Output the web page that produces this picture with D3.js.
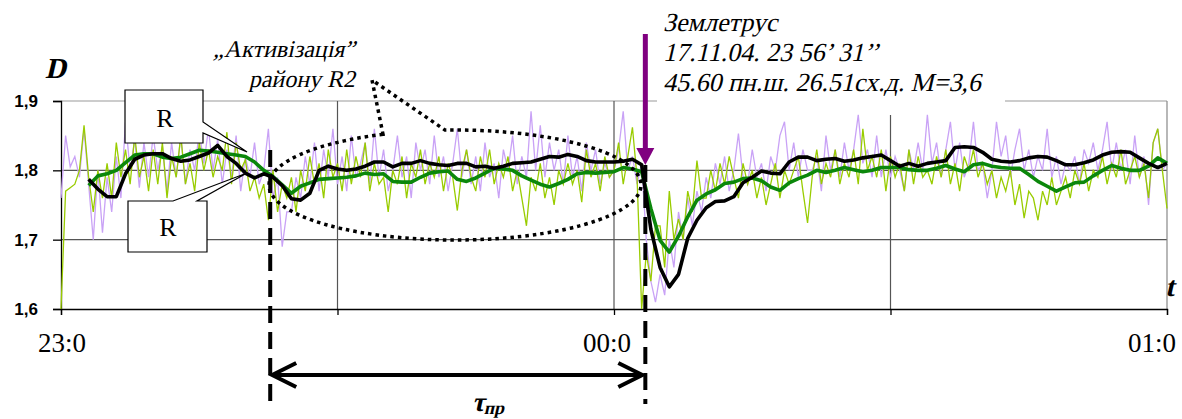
<!DOCTYPE html>
<html><head><meta charset="utf-8">
<script src="https://cdn.jsdelivr.net/npm/d3@7"></script>
<style>body{margin:0;background:#fff}svg{display:block}</style>
</head><body><svg id="c" width="1182" height="419"></svg>
<script>
// ---- data ----
const yTicks = [1.6, 1.7, 1.8, 1.9];
const yTickLabels = ["1,6", "1,7", "1,8", "1,9"];
const xTicks = [0, 30, 60, 90, 120];            // minutes after 23:00
const xLabelTicks = [0, 60, 120];
const xTickLabels = ["23:0", "00:0", "01:0"];
const noisyStep = 0.5;                           // minutes between samples of noisy series
const purple = [
1.760,1.850,1.805,1.820,1.790,1.860,1.780,1.700,1.800,1.710,
1.790,1.740,1.820,1.760,1.870,1.800,1.845,1.775,1.840,1.790,
1.850,1.800,1.835,1.770,1.840,1.790,1.850,1.780,1.830,1.800,
1.855,1.810,1.860,1.800,1.845,1.780,1.830,1.790,1.850,1.770,
1.820,1.790,1.840,1.780,1.800,1.860,1.760,1.790,1.690,1.740,
1.740,1.790,1.760,1.820,1.780,1.840,1.770,1.830,1.790,1.860,
1.780,1.820,1.770,1.850,1.790,1.810,1.840,1.780,1.860,1.790,
1.830,1.770,1.800,1.850,1.790,1.820,1.760,1.840,1.800,1.830,
1.780,1.850,1.790,1.820,1.770,1.810,1.860,1.790,1.830,1.780,
1.820,1.770,1.840,1.790,1.810,1.760,1.830,1.800,1.850,1.780,
1.820,1.790,1.885,1.800,1.865,1.790,1.840,1.800,1.830,1.780,
1.850,1.790,1.820,1.770,1.840,1.800,1.830,1.780,1.810,1.790,
1.800,1.830,1.885,1.800,1.820,1.780,1.810,1.700,1.640,1.610,
1.650,1.620,1.700,1.660,1.740,1.700,1.760,1.720,1.770,1.740,
1.790,1.760,1.810,1.780,1.820,1.770,1.800,1.853,1.790,1.780,
1.830,1.790,1.810,1.770,1.820,1.800,1.850,1.870,1.800,1.840,
1.790,1.830,1.800,1.800,1.820,1.770,1.850,1.800,1.830,1.790,
1.840,1.800,1.830,1.880,1.810,1.830,1.790,1.850,1.790,1.830,
1.790,1.820,1.800,1.770,1.830,1.800,1.840,1.800,1.880,1.810,
1.840,1.790,1.830,1.870,1.800,1.840,1.790,1.810,1.870,1.800,
1.810,1.760,1.800,1.870,1.820,1.850,1.790,1.830,1.860,1.800,
1.830,1.790,1.820,1.800,1.860,1.790,1.820,1.780,1.810,1.800,
1.820,1.780,1.830,1.810,1.840,1.800,1.830,1.870,1.800,1.840,
1.800,1.830,1.780,1.850,1.790,1.820,1.750,1.840,1.860,1.800,
1.810];
const yellowGreen = [
1.600,1.770,1.775,1.780,1.800,1.865,1.790,1.740,1.800,1.760,
1.810,1.760,1.840,1.790,1.830,1.780,1.850,1.790,1.820,1.770,
1.830,1.780,1.840,1.760,1.820,1.790,1.850,1.780,1.810,1.770,
1.840,1.800,1.830,1.790,1.820,1.800,1.855,1.780,1.840,1.800,
1.815,1.770,1.790,1.760,1.780,1.728,1.800,1.740,1.780,1.760,
1.790,1.740,1.800,1.770,1.820,1.780,1.810,1.760,1.830,1.790,
1.810,1.770,1.830,1.780,1.820,1.790,1.840,1.770,1.810,1.780,
1.790,1.740,1.800,1.780,1.820,1.760,1.810,1.790,1.830,1.780,
1.810,1.790,1.820,1.770,1.810,1.790,1.742,1.800,1.830,1.790,
1.770,1.820,1.790,1.830,1.780,1.810,1.790,1.820,1.770,1.800,
1.760,1.720,1.790,1.770,1.810,1.760,1.790,1.750,1.800,1.780,
1.810,1.780,1.800,1.754,1.830,1.790,1.810,1.770,1.820,1.790,
1.800,1.840,1.780,1.820,1.862,1.790,1.600,1.680,1.640,1.720,
1.720,1.660,1.770,1.700,1.730,1.700,1.770,1.740,1.814,1.760,
1.760,1.800,1.770,1.810,1.780,1.820,1.790,1.760,1.810,1.780,
1.800,1.760,1.790,1.750,1.780,1.810,1.760,1.800,1.780,1.800,
1.820,1.770,1.724,1.790,1.830,1.780,1.810,1.790,1.830,1.780,
1.810,1.790,1.830,1.780,1.860,1.800,1.820,1.790,1.830,1.770,
1.820,1.790,1.810,1.770,1.830,1.780,1.820,1.790,1.800,1.780,
1.820,1.790,1.830,1.780,1.810,1.770,1.820,1.800,1.830,1.790,
1.810,1.780,1.800,1.760,1.790,1.770,1.800,1.750,1.780,1.731,
1.770,1.760,1.728,1.770,1.750,1.790,1.750,1.770,1.790,1.760,
1.800,1.780,1.810,1.770,1.800,1.790,1.820,1.780,1.810,1.790,
1.830,1.780,1.800,1.820,1.790,1.810,1.760,1.840,1.860,1.800,
1.745];
const smoothStart = 3;                           // smoothed series: one value per minute from 23:03
const smoothBlack = [
1.787,1.773,1.762,1.762,1.795,1.816,1.822,1.824,1.824,1.817,
1.813,1.815,1.820,1.825,1.836,1.820,1.810,1.796,1.789,1.795,
1.790,1.778,1.759,1.757,1.767,1.800,1.806,1.802,1.800,1.802,
1.806,1.812,1.812,1.805,1.810,1.810,1.814,1.810,1.808,1.807,
1.810,1.810,1.805,1.806,1.803,1.806,1.810,1.811,1.812,1.816,
1.820,1.819,1.823,1.820,1.814,1.812,1.812,1.812,1.813,1.816,
1.808,1.715,1.660,1.632,1.650,1.702,1.728,1.746,1.755,1.756,
1.762,1.782,1.790,1.799,1.796,1.795,1.812,1.819,1.819,1.814,
1.816,1.817,1.813,1.815,1.818,1.820,1.822,1.814,1.806,1.810,
1.806,1.810,1.812,1.814,1.833,1.834,1.833,1.826,1.816,1.813,
1.812,1.814,1.818,1.820,1.819,1.814,1.808,1.808,1.811,1.815,
1.822,1.826,1.827,1.826,1.818,1.810,1.804,1.810];
const smoothGreen = [
1.778,1.792,1.795,1.800,1.811,1.822,1.824,1.824,1.819,1.817,
1.819,1.824,1.829,1.828,1.826,1.824,1.822,1.820,1.812,1.800,
1.791,1.779,1.767,1.777,1.782,1.787,1.788,1.789,1.790,1.792,
1.796,1.794,1.795,1.784,1.783,1.783,1.790,1.796,1.798,1.799,
1.787,1.784,1.789,1.796,1.803,1.802,1.800,1.792,1.786,1.780,
1.776,1.781,1.787,1.795,1.797,1.796,1.797,1.798,1.804,1.802,
1.798,1.745,1.699,1.682,1.705,1.733,1.757,1.766,1.772,1.781,
1.783,1.788,1.789,1.785,1.776,1.771,1.782,1.788,1.793,1.800,
1.797,1.800,1.804,1.801,1.798,1.800,1.804,1.804,1.804,1.801,
1.800,1.800,1.803,1.807,1.802,1.798,1.808,1.810,1.806,1.804,
1.803,1.803,1.794,1.784,1.777,1.770,1.776,1.782,1.783,1.792,
1.800,1.807,1.803,1.800,1.800,1.806,1.818,1.810];
const quakeMinute = 63.4;
const precursorMinute = 22.7;
const quakeText = ["Землетрус", "17.11.04. 23 56’ 31’’", "45.60 пн.ш. 26.51сх.д. M=3,6"];
const activityText = ["„Активізація”", "району R2"];

// ---- layout ----
const svg = d3.select("#c");
const x = d3.scaleLinear().domain([0, 120]).range([61, 1167]);
const y = d3.scaleLinear().domain([1.6, 1.9]).range([309, 101]);
const serif = "'Liberation Serif','Times New Roman',serif";
const sans = "'Liberation Sans',Arial,sans-serif";

// faux-italic serif text (slanted upright serif glyphs)
function slanted(px, py, txt, size, opts = {}) {
  const t = svg.append("text")
    .attr("transform", `translate(${px},${py}) skewX(-13)`)
    .attr("font-family", serif).attr("font-size", size)
    .attr("font-weight", opts.bold ? "bold" : "normal")
    .attr("text-anchor", opts.anchor || "start");
  t.text(txt);
  return t;
}

// grid
const g = svg.append("g");
yTicks.filter(d => d > 1.6).forEach(d => {
  g.append("line").attr("x1", x(0)).attr("x2", x(120)).attr("y1", y(d)).attr("y2", y(d))
   .attr("stroke", d === 1.9 ? "#9a9a9a" : "#555").attr("stroke-width", 1.2);
});
xTicks.filter(d => d > 0).forEach(d => {
  g.append("line").attr("x1", x(d)).attr("x2", x(d)).attr("y1", y(1.9)).attr("y2", y(1.6))
   .attr("stroke", d === 120 ? "#888" : "#555").attr("stroke-width", 1.2);
});

// white panel behind the earthquake text
svg.append("rect").attr("x", 657).attr("y", 0).attr("width", 348).attr("height", 115).attr("fill", "#fff");

// axes
const ya = svg.append("g").attr("transform", `translate(${x(0)},0)`)
  .call(d3.axisLeft(y).tickValues(yTicks).tickSize(8).tickPadding(15).tickFormat((d, i) => yTickLabels[i]));
ya.selectAll("text").attr("font-family", sans).attr("font-weight", "bold").attr("font-size", 17).attr("fill", "#000");
ya.selectAll("line,path").attr("stroke", "#000").attr("stroke-width", 1.3);
const xa = svg.append("g").attr("transform", `translate(0,${y(1.6)})`)
  .call(d3.axisBottom(x).tickValues(xTicks).tickSize(6).tickFormat(""));
xa.selectAll("line,path").attr("stroke", "#000").attr("stroke-width", 1.3);
const xLabelShift = [-23, -31, -39];
xLabelTicks.forEach((d, i) => {
  svg.append("text").attr("x", x(d) + xLabelShift[i]).attr("y", 352)
    .attr("font-family", serif).attr("font-size", 27).text(xTickLabels[i]);
});

// series
const noisyLine = d3.line().x((d, i) => x(i * noisyStep)).y(d => y(d));
const smoothLine = d3.line().x((d, i) => x(smoothStart + i)).y(d => y(d));
svg.append("path").attr("d", noisyLine(purple)).attr("fill", "none").attr("stroke", "#c9a2f6").attr("stroke-width", 1.3);
svg.append("path").attr("d", noisyLine(yellowGreen)).attr("fill", "none").attr("stroke", "#99cc00").attr("stroke-width", 1.3);
svg.append("path").attr("d", smoothLine(smoothGreen)).attr("fill", "none").attr("stroke", "#0b870b").attr("stroke-width", 3.6).attr("stroke-linejoin", "round");
svg.append("path").attr("d", smoothLine(smoothBlack)).attr("fill", "none").attr("stroke", "#000").attr("stroke-width", 3.6).attr("stroke-linejoin", "round");

// dotted oval callout
const cx = 455, cy = 185, rx = 186, ry = 55;
const p1x = 383, p2x = 445, tip = [372, 80];
const p1y = cy - ry * Math.sqrt(1 - ((p1x - cx) / rx) ** 2);
const p2y = cy - ry * Math.sqrt(1 - ((p2x - cx) / rx) ** 2);
svg.append("path")
  .attr("d", `M${p1x},${p1y} A${rx},${ry} 0 1 0 ${p2x},${p2y} L${tip[0]},${tip[1]} Z`)
  .attr("fill", "none").attr("stroke", "#000").attr("stroke-width", 3.5).attr("stroke-dasharray", "3.5,4");

// dashed verticals
[precursorMinute, quakeMinute].forEach((m, i) => {
  svg.append("line").attr("x1", x(m)).attr("x2", x(m)).attr("y1", i === 0 ? 150 : 165).attr("y2", 404)
    .attr("stroke", "#000").attr("stroke-width", 4).attr("stroke-dasharray", "17,9");
});

// R callouts
svg.append("path").attr("d", "M125,90 H203 V122 L247,152 L203,133 V143 H125 Z")
  .attr("fill", "#fff").attr("stroke", "#000").attr("stroke-width", 1.2);
svg.append("path").attr("d", "M128,201 H173 L247,173 L197,201 H207 V252 H128 Z")
  .attr("fill", "#fff").attr("stroke", "#000").attr("stroke-width", 1.2);
svg.append("text").attr("x", 165).attr("y", 127).attr("text-anchor", "middle").attr("font-family", serif).attr("font-size", 26).text("R");
svg.append("text").attr("x", 168).attr("y", 236).attr("text-anchor", "middle").attr("font-family", serif).attr("font-size", 26).text("R");

// double arrow (precursor interval)
const ax1 = x(precursorMinute) + 2, ax2 = x(quakeMinute) - 3, ay = 375;
svg.append("line").attr("x1", ax1).attr("x2", ax2).attr("y1", ay).attr("y2", ay).attr("stroke", "#000").attr("stroke-width", 4);
svg.append("path").attr("d", `M${ax1 + 24},${ay - 12} L${ax1},${ay} L${ax1 + 24},${ay + 12}`).attr("fill", "none").attr("stroke", "#000").attr("stroke-width", 4);
svg.append("path").attr("d", `M${ax2 - 24},${ay - 12} L${ax2},${ay} L${ax2 - 24},${ay + 12}`).attr("fill", "none").attr("stroke", "#000").attr("stroke-width", 4);

// earthquake arrow
const qx = x(quakeMinute);
svg.append("line").attr("x1", qx).attr("x2", qx).attr("y1", 34).attr("y2", 150).attr("stroke", "#800080").attr("stroke-width", 5);
svg.append("path").attr("d", `M${qx - 9},148 L${qx + 9},148 L${qx},165 Z`).attr("fill", "#800080");

// texts
slanted(45, 78, "D", 29, {bold: true});
slanted(1165, 296, "t", 28, {bold: true});
activityText.forEach((t, i) => slanted(355, 57 + i * 30, t, 24, {anchor: "end"}));
quakeText.forEach((t, i) => slanted(663, 31 + i * 30, t, 26));
const tau = slanted(472, 411, "", 27, {bold: true});
tau.append("tspan").text("τ");
tau.append("tspan").attr("font-size", 18).attr("dy", 3).text("пр");
</script>
</body></html>
